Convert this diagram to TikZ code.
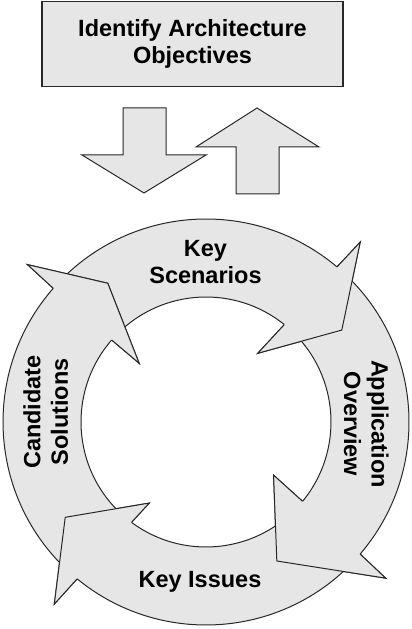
\documentclass[tikz,border=0pt]{standalone}
\usepackage{fontspec}
\setmainfont{Liberation Sans}

\definecolor{boxgray}{RGB}{230,230,230}
\definecolor{linegray}{RGB}{40,40,40}

\begin{document}
\begin{tikzpicture}[x=1pt, y=1pt,
    ringarrow/.style={fill=boxgray, draw=linegray, line width=1pt, line join=miter},
    blockarrow/.style={fill=boxgray, draw=linegray, line width=1pt},
    labeltext/.style={font=\bfseries\fontsize{23.5}{27.5}\selectfont, align=center, inner sep=0pt}]

    \useasboundingbox (0,0) rectangle (412,629);

    % Draw the objectives box
    \node[labeltext, draw=linegray, fill=boxgray, line width=1.3pt, minimum width=301pt, minimum height=85pt] (objectives) at (192.5,585) {Identify Architecture\\Objectives};

    % Draw the block arrows
    \filldraw[blockarrow] (123,521) -- (166,521) -- (166,474) -- (206,474) -- (144,436) -- (82,474) -- (123,474) -- cycle;
    \filldraw[blockarrow] (257,521) -- (319,482) -- (279,482) -- (279,435) -- (236,435) -- (236,482) -- (196,482) -- cycle;

    % Draw the cycle
    \begin{scope}[shift={(206,207)}]
        % Ring arrows
        \filldraw[ringarrow] (135:203) arc[start angle=135, end angle=49.8, radius=203] -- (49.4:237) -- (34.1:164) -- (53:86) -- (51.2:125) arc[start angle=51.2, end angle=135, radius=125] -- cycle;
        \filldraw[ringarrow] (46:203) arc[start angle=46, end angle=-40.6, radius=203] -- (-41:238) -- (-63:156) -- (-38.2:86) -- (-39.4:125) arc[start angle=-39.4, end angle=46, radius=125] -- cycle;
        \filldraw[ringarrow] (-44:203) arc[start angle=-44, end angle=-129.4, radius=203] -- (-129.8:237) -- (-145.9:170) -- (-125:99) -- (-126.6:125) arc[start angle=-126.6, end angle=-44, radius=125] -- cycle;
        \filldraw[ringarrow] (228:203) arc[start angle=228, end angle=138.8, radius=203] -- (138.6:238) -- (125.3:170) -- (138.7:89) -- (139:125) arc[start angle=139, end angle=228, radius=125] -- cycle;

        % Heads again, over the tails
        \filldraw[ringarrow] (49.8:203) -- (49.4:237) -- (34.1:164) -- (53:86) -- (51.2:125);
        \filldraw[ringarrow] (-40.6:203) -- (-41:238) -- (-63:156) -- (-38.2:86) -- (-39.4:125);
        \filldraw[ringarrow] (-129.4:203) -- (-129.8:237) -- (-145.9:170) -- (-125:99) -- (-126.6:125);
        \filldraw[ringarrow] (138.8:203) -- (138.6:238) -- (125.3:170) -- (138.7:89) -- (139:125);
    \end{scope}

    % Labels
    \node[labeltext] (scenarios) at (205.5,367) {Key\\Scenarios};
    \node[labeltext, rotate=-90] (overview) at (366.3,205) {Application\\Overview};
    \node[labeltext] (issues) at (200,47) {Key Issues};
    \node[labeltext, rotate=90] (solutions) at (45.8,217) {Candidate\\Solutions};

\end{tikzpicture}
\end{document}
